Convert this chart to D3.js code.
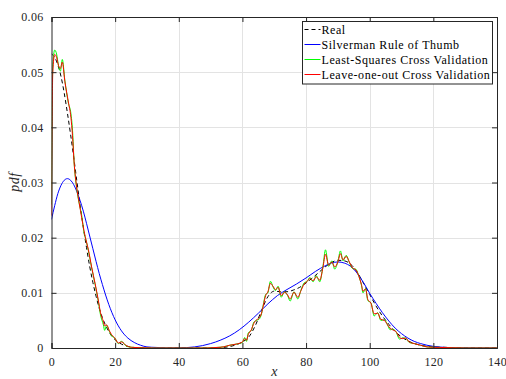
<!DOCTYPE html>
<html><head><meta charset="utf-8">
<script src="https://cdn.jsdelivr.net/npm/d3@7"></script>
<style>body{margin:0;background:#fff}svg{display:block}</style>
</head><body>
<svg id="c" width="506" height="379"></svg>
<script>
const xTicks = [0,20,40,60,80,100,120,140];
const yTicks = [0,0.01,0.02,0.03,0.04,0.05,0.06];
const yTickLabels = ["0","0.01","0.02","0.03","0.04","0.05","0.06"];
const seriesNames = ["Real","Silverman Rule of Thumb","Least-Squares Cross Validation","Leave-one-out Cross Validation"];

const realPts = [[0,0.0533],[1,0.0527],[2,0.0513],[3,0.0492],[4,0.0462],[5,0.0426],[6,0.0387],[7,0.0345],[8,0.0301],[9,0.0259],[10,0.0219],[11,0.0182],[12,0.0148],[13,0.0119],[14,0.0094],[15,0.0072],[16,0.0055],[17,0.0041],[18,0.0030],[19,0.0021],[20,0.0015],[22,0.0007],[24,0.0003],[26,0.0001],[30,0],[50,0],[54,0.0001],[57,0.0004],[60,0.0011],[62,0.0020],[64,0.0040],[66,0.0068],[68,0.0093],[70,0.0103],[72,0.0102],[74,0.0102],[76,0.0105],[78,0.0110],[80,0.0118],[82,0.0127],[84,0.0137],[86,0.0147],[88,0.0155],[90,0.0159],[92,0.0158],[94,0.0152],[96,0.0138],[98,0.0118],[100,0.0097],[102,0.0076],[104,0.0058],[106,0.0043],[108,0.0030],[110,0.0020],[112,0.0013],[114,0.0008],[116,0.0005],[118,0.0003],[120,0.0002],[125,0.0001],[130,0],[140,0]];

const silvermanPts = [[0,0.0233],[1,0.0258],[2,0.0280],[3,0.0295],[4,0.0304],[5,0.0307],[6,0.0304],[7,0.0296],[8,0.0283],[9,0.0267],[10,0.0248],[11,0.0226],[12,0.0203],[13,0.0180],[14,0.0157],[15,0.0135],[16,0.0115],[17,0.0096],[18,0.0079],[19,0.0064],[20,0.0051],[22,0.0031],[24,0.0018],[26,0.0010],[28,0.0005],[30,0.0002],[33,0.0001],[36,0.00003],[40,0.00003],[45,0.0002],[50,0.0008],[53,0.0014],[56,0.0022],[59,0.0033],[62,0.0047],[65,0.0063],[68,0.0080],[71,0.0095],[74,0.0106],[77,0.0116],[80,0.0127],[83,0.0139],[86,0.0149],[88,0.0154],[90,0.0156],[92,0.0154],[94,0.0148],[96,0.0136],[98,0.0119],[100,0.0099],[102,0.0081],[104,0.0064],[106,0.0049],[108,0.0036],[110,0.0026],[112,0.0018],[114,0.0012],[116,0.0008],[118,0.0005],[120,0.0003],[124,0.0001],[130,0.00002],[140,0]];

const lscvPts = [[0,0.026],[0.4,0.051],[1,0.0540],[1.6,0.0533],[2.2,0.0512],[2.8,0.0502],[3.4,0.0523],[4.2,0.0485],[5.3,0.0444],[6.1,0.0425],[6.6,0.0395],[7.1,0.0337],[7.9,0.0290],[8.7,0.0262],[9.5,0.0240],[10.2,0.0210],[11,0.0192],[11.6,0.0176],[12.6,0.0146],[13.7,0.0115],[14.7,0.0085],[15.4,0.0060],[16.3,0.0042],[16.7,0.0032],[17.3,0.0041],[18.2,0.0030],[18.9,0.0022],[19.9,0.0018],[21,0.0008],[22,0.0012],[23.6,0.0003],[25.7,0.0001],[28,0.00005],[32,0],[40,0],[48,0],[52,0.0001],[54,0.0002],[56,0.0005],[58,0.0007],[60,0.0010],[60.7,0.0019],[61.3,0.0012],[61.8,0.0027],[62.8,0.0032],[63.6,0.0047],[64.4,0.0050],[65.2,0.0052],[66,0.0062],[66.6,0.0080],[67.3,0.0097],[68,0.0100],[68.8,0.0121],[69.6,0.0111],[70.4,0.0104],[71.2,0.0112],[72.2,0.0092],[73.2,0.0102],[74.2,0.0095],[75,0.0085],[76.2,0.0102],[77.4,0.0089],[78.4,0.0105],[79.4,0.0118],[80.4,0.0121],[81.2,0.0128],[82.2,0.0120],[83.2,0.0131],[84.3,0.0120],[85.3,0.0148],[86.1,0.0178],[87.1,0.0148],[88.1,0.0158],[89,0.0143],[90,0.0157],[90.8,0.0176],[91.6,0.0158],[92.6,0.0168],[93.6,0.0155],[94.6,0.0144],[95.6,0.0143],[96.6,0.0130],[97.4,0.0114],[97.9,0.0100],[98.7,0.0108],[99.4,0.0086],[100.4,0.0082],[101.4,0.0058],[102.5,0.0064],[103.5,0.0050],[104.6,0.0051],[105.6,0.0042],[106.4,0.0033],[107.2,0.0034],[108.2,0.0030],[109.4,0.0016],[110.2,0.0018],[111.3,0.0018],[112.4,0.0010],[114,0.0008],[116,0.0005],[118,0.0002],[122,0.0001],[126,0.00005],[130,0],[140,0]];

const loocvPts = [[0,0.024],[0.4,0.050],[1,0.0532],[1.6,0.0527],[2.2,0.0512],[2.8,0.0507],[3.4,0.0518],[4.2,0.0483],[5.3,0.0446],[6.1,0.0418],[6.6,0.0385],[7.1,0.0337],[7.9,0.0292],[8.7,0.0263],[9.5,0.0236],[10.2,0.0213],[11,0.0192],[11.6,0.0178],[12.6,0.0147],[13.7,0.0117],[14.7,0.0087],[15.4,0.0064],[16.3,0.0048],[16.7,0.0040],[17.3,0.0042],[18.2,0.0031],[18.9,0.0024],[19.9,0.0018],[21,0.0009],[22,0.0011],[23.6,0.0004],[25.7,0.0001],[28,0.00005],[32,0],[40,0],[48,0],[52,0.0001],[54,0.0002],[56,0.0005],[58,0.0007],[60,0.0011],[60.7,0.0017],[61.3,0.0014],[61.8,0.0024],[62.8,0.0033],[63.6,0.0045],[64.4,0.0051],[65.2,0.0054],[66,0.0063],[66.6,0.0078],[67.3,0.0095],[68,0.0102],[68.8,0.0117],[69.6,0.0112],[70.4,0.0106],[71.2,0.0110],[72.2,0.0095],[73.2,0.0101],[74.2,0.0096],[75,0.0089],[76.2,0.0101],[77.4,0.0092],[78.4,0.0104],[79.4,0.0116],[80.4,0.0121],[81.2,0.0126],[82.2,0.0122],[83.2,0.0129],[84.3,0.0123],[85.3,0.0146],[86.1,0.0170],[87.1,0.0150],[88.1,0.0156],[89,0.0147],[90,0.0156],[90.8,0.0171],[91.6,0.0160],[92.6,0.0166],[93.6,0.0156],[94.6,0.0145],[95.6,0.0142],[96.6,0.0130],[97.4,0.0115],[97.9,0.0103],[98.7,0.0107],[99.4,0.0088],[100.4,0.0081],[101.4,0.0062],[102.5,0.0063],[103.5,0.0052],[104.6,0.0050],[105.6,0.0042],[106.4,0.0036],[107.2,0.0033],[108.2,0.0030],[109.4,0.0019],[110.2,0.0017],[111.3,0.0018],[112.4,0.0011],[114,0.0008],[116,0.0005],[118,0.0002],[122,0.0001],[126,0.00005],[130,0],[140,0]];

const colors = ["#000000","#0000ff","#00ff00","#ff0000"];
const font = "'Liberation Serif','Times New Roman',serif";

const svg = d3.select("#c");
const L = 51.5, R = 497, T = 17, B = 348;
const x = d3.scaleLinear().domain([0,140]).range([L,R]);
const y = d3.scaleLinear().domain([0,0.06]).range([B,T]);

svg.append("rect").attr("x",L).attr("y",T).attr("width",R-L).attr("height",B-T).attr("fill","#fff");

// grid
const grid = svg.append("g");
grid.selectAll(".gx").data(xTicks.slice(1,-1)).enter().append("line")
  .attr("x1",d=>Math.round(x(d))+0.5).attr("x2",d=>Math.round(x(d))+0.5).attr("y1",T).attr("y2",B)
  .attr("stroke","#e3e3e3").attr("stroke-width",1);
grid.selectAll(".gy").data(yTicks.slice(1,-1)).enter().append("line")
  .attr("y1",d=>Math.round(y(d))+0.5).attr("y2",d=>Math.round(y(d))+0.5).attr("x1",L).attr("x2",R)
  .attr("stroke","#e3e3e3").attr("stroke-width",1);

// curves
svg.append("clipPath").attr("id","clip").append("rect").attr("x",L).attr("y",T).attr("width",R-L).attr("height",B-T);
const line = d3.line().x(d=>x(d[0])).y(d=>y(d[1])).curve(d3.curveMonotoneX);
const gC = svg.append("g").attr("clip-path","url(#clip)");
const series = [realPts, silvermanPts, lscvPts, loocvPts];
series.forEach((pts,i)=>{
  gC.append("path").attr("d",line(pts)).attr("fill","none")
    .attr("stroke",colors[i]).attr("stroke-width",1)
    .attr("stroke-dasharray", i===0 ? "4,3" : null);
});

// axes box
const axisG = svg.append("g");
const xAxisB = d3.axisBottom(x).tickValues(xTicks).tickSize(-5).tickFormat(d3.format("d")).tickPadding(9);
const xAxisT = d3.axisTop(x).tickValues(xTicks).tickSize(-5).tickFormat("");
const yAxisL = d3.axisLeft(y).tickValues(yTicks).tickSize(-5).tickFormat((d,i)=>yTickLabels[i]).tickPadding(8);
const yAxisR = d3.axisRight(y).tickValues(yTicks).tickSize(-5).tickFormat("");
[[xAxisB,`translate(0,${B})`],[xAxisT,`translate(0,${T})`],[yAxisL,`translate(${L},0)`],[yAxisR,`translate(${R},0)`]].forEach(([ax,tr])=>{
  const g = axisG.append("g").attr("transform",tr).call(ax);
  g.select(".domain").attr("stroke","#262626").attr("stroke-width",1);
  g.selectAll(".tick line").attr("stroke","#262626");
  g.selectAll("text").attr("font-family",font).attr("font-size",12).attr("letter-spacing",0.3).attr("fill","#262626");
});

// axis labels
svg.append("text").attr("x",(L+R)/2).attr("y",376).attr("text-anchor","middle")
  .attr("font-family",font).attr("font-style","italic").attr("font-size",14).attr("fill","#262626").text("x");
svg.append("text").attr("transform","translate(19,182) rotate(-90)").attr("text-anchor","middle")
  .attr("font-family",font).attr("font-style","italic").attr("font-size",14).attr("letter-spacing",0.5).attr("fill","#262626").text("pdf");

// legend
const lg = svg.append("g");
const lx = 302.5, ly = 21.5, lw = 190, lh = 62.5;
lg.append("rect").attr("x",lx).attr("y",ly).attr("width",lw).attr("height",lh)
  .attr("fill","#fff").attr("stroke","#262626").attr("stroke-width",1);
seriesNames.forEach((n,i)=>{
  const cy = 29.5 + i*15;
  lg.append("line").attr("x1",lx+2).attr("x2",lx+18).attr("y1",cy).attr("y2",cy)
    .attr("stroke",colors[i]).attr("stroke-width",1).attr("stroke-dasharray", i===0 ? "4,3" : null);
  lg.append("text").attr("x",lx+19).attr("y",cy+4).attr("font-family",font).attr("font-size",12)
    .attr("letter-spacing",0.55).attr("fill","#000").text(n);
});
</script>
</body></html>
